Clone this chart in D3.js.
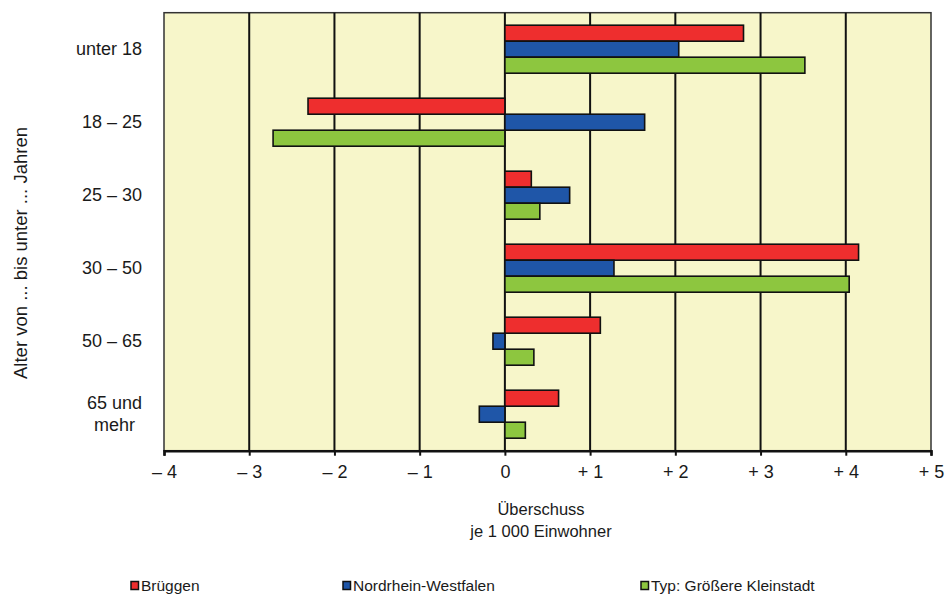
<!DOCTYPE html>
<html>
<head>
<meta charset="utf-8">
<script src="https://cdn.jsdelivr.net/npm/d3@7"></script>
<style>
  body { margin: 0; background: #fff; }
  text { font-family: Arial, "Liberation Sans", sans-serif; fill: #1a1a1a; }
</style>
</head>
<body>
<svg id="chart" width="946" height="594"></svg>
<script>
// Data
var categories = ['unter 18', '18 – 25', '25 – 30', '30 – 50', '50 – 65', '65 und\nmehr'];
var seriesNames = ['Brüggen', 'Nordrhein-Westfalen', 'Typ: Größere Kleinstadt'];
var brueggen = [2.80, -2.31, 0.31, 4.15, 1.12, 0.63];
var nrw = [2.04, 1.64, 0.76, 1.28, -0.14, -0.30];
var typ = [3.52, -2.72, 0.41, 4.04, 0.34, 0.24];
var tickValues = [-4, -3, -2, -1, 0, 1, 2, 3, 4, 5];
var tickLabels = ['– 4', '– 3', '– 2', '– 1', '0', '+ 1', '+ 2', '+ 3', '+ 4', '+ 5'];
var colors = ['#ee2e2e', '#1f56a8', '#8dc63f'];

var series = [brueggen, nrw, typ];

// layout
var layout = { left: 164, top: 12.7, width: 767, height: 438 };

var svg = d3.select('#chart');
var stage = svg.append('g')
  .attr('transform', 'translate(' + layout.left + ',' + layout.top + ')');

var x = d3.scaleLinear().domain([-4, 5]).range([0, layout.width]);
var y = d3.scaleBand().domain(categories).range([0, layout.height]).padding(0);
var yInner = d3.scaleBand().domain(seriesNames)
  .range([12.5, y.bandwidth() - 12.5]).padding(0);

// plot background
stage.append('rect')
  .attr('width', layout.width)
  .attr('height', layout.height)
  .attr('fill', '#f7f6ca')
  .attr('stroke', '#333')
  .attr('stroke-width', 1.5);

// vertical grid lines
stage.append('g').selectAll('line')
  .data(tickValues.slice(1, -1))
  .enter().append('line')
  .attr('x1', function (d) { return x(d); })
  .attr('x2', function (d) { return x(d); })
  .attr('y1', 0)
  .attr('y2', layout.height)
  .attr('stroke', '#111')
  .attr('stroke-width', 2);

// bars
var groups = stage.append('g').selectAll('g')
  .data(categories)
  .enter().append('g')
  .attr('transform', function (d) { return 'translate(0,' + y(d) + ')'; });

groups.selectAll('rect')
  .data(function (d, i) {
    return seriesNames.map(function (s, j) {
      return { name: s, value: series[j][i], color: colors[j] };
    });
  })
  .enter().append('rect')
  .attr('x', function (d) { return x(Math.min(0, d.value)); })
  .attr('width', function (d) { return Math.abs(x(d.value) - x(0)); })
  .attr('y', function (d) { return yInner(d.name); })
  .attr('height', yInner.bandwidth())
  .attr('fill', function (d) { return d.color; })
  .attr('stroke', '#111')
  .attr('stroke-width', 1.6);

// x axis
var xAxis = d3.axisBottom(x)
  .tickValues(tickValues)
  .tickSize(5)
  .tickFormat(function (d, i) { return tickLabels[i]; });

var $axis = stage.append('g')
  .attr('transform', 'translate(0,' + layout.height + ')')
  .call(xAxis);
$axis.select('.domain').attr('stroke', '#111').attr('stroke-width', 2.5);
$axis.selectAll('.tick line').attr('stroke', '#111').attr('stroke-width', 2);
$axis.selectAll('.tick text')
  .attr('y', 15)
  .attr('font-size', 18)
  .style('font-family', 'Arial, "Liberation Sans", sans-serif')
  .attr('fill', '#1a1a1a');

// category labels
categories.forEach(function (c) {
  var lines = c.split('\n');
  var cy = layout.top + y(c) + y.bandwidth() / 2;
  var t = svg.append('text')
    .attr('font-size', 18)
    .attr('dominant-baseline', 'central');
  lines.forEach(function (l, k) {
    t.append('tspan')
      .attr('x', 142)
      .attr('y', cy + (k - (lines.length - 1) / 2) * 22)
      .text(l);
  });
  if (lines.length > 1) {
    var w = t.node().getBBox().width;
    t.attr('text-anchor', 'middle');
    t.selectAll('tspan').attr('x', 142 - w / 2);
  } else {
    t.attr('text-anchor', 'end');
  }
});

// y axis title
svg.append('text')
  .attr('transform', 'translate(20,253) rotate(-90)')
  .attr('text-anchor', 'middle')
  .attr('dominant-baseline', 'central')
  .attr('font-size', 18.5)
  .text('Alter von ... bis unter ... Jahren');

// x axis title
svg.append('text')
  .attr('x', 541).attr('y', 509)
  .attr('text-anchor', 'middle')
  .attr('dominant-baseline', 'central')
  .attr('font-size', 16.5)
  .text('Überschuss');
svg.append('text')
  .attr('x', 541).attr('y', 531)
  .attr('text-anchor', 'middle')
  .attr('dominant-baseline', 'central')
  .attr('font-size', 16.5)
  .text('je 1 000 Einwohner');

// legend
var legendX = [131, 343, 641];
var legend = svg.append('g').selectAll('g')
  .data(seriesNames)
  .enter().append('g')
  .attr('transform', function (d, i) { return 'translate(' + legendX[i] + ',585.5)'; });
legend.append('rect')
  .attr('x', 0).attr('y', -4)
  .attr('width', 7.5).attr('height', 8)
  .attr('fill', function (d, i) { return colors[i]; })
  .attr('stroke', '#111')
  .attr('stroke-width', 1.5);
legend.append('text')
  .attr('x', 10)
  .attr('dominant-baseline', 'central')
  .attr('font-size', 15.5)
  .text(function (d) { return d; });
</script>
</body>
</html>
